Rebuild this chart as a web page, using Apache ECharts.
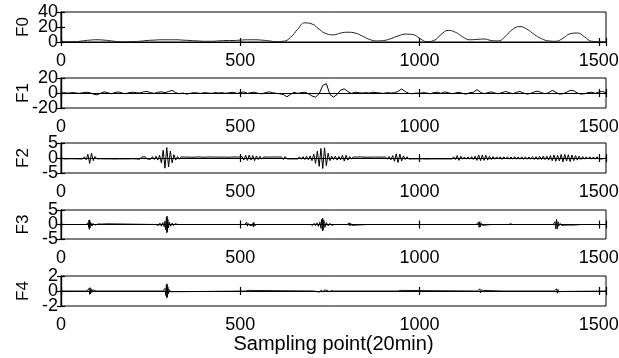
<!DOCTYPE html>
<html>
<head>
<meta charset="utf-8">
<script src="https://cdn.jsdelivr.net/npm/echarts@6/dist/echarts.min.js"></script>
<style>html,body{margin:0;padding:0;background:#fff}#c{width:619px;height:358px}</style>
</head>
<body>
<div id="c"></div>
<script>
// ---- data ----
var xTicks = [0, 500, 1000, 1500];
var names = ['F0', 'F1', 'F2', 'F3', 'F4'];
var yRanges = [[0, 40, 20], [-20, 20, 20], [-5, 5, 5], [-5, 5, 5], [-2, 2, 2]];

// F0 sampled every 20 points
var f0Step = 20;
var f0 = [1,0.5,0.5,1.5,2.5,3,2.5,1.5,0.5,0.3,0.5,1,2,2.5,3,3,3,2.5,2,1.5,1,1,1.5,2,2,2.5,3,3,2.5,1.5,0.5,
  1,6,17,25.5,24,17,11,9.5,12,13,12,8,3.5,1.5,2,4.5,8,10.5,10,5,0.5,2,10,15.5,13,7,3,3.5,4,2,1.5,8,17,20.5,17,10,4.5,1.5,1,5,11,12,7,1,0.5,0.5];

// F1 sampled every 10 points
var f1Step = 10;
var f1 = [0,0.3,-0.2,0.5,0.2,-0.5,0.3,1,0.5,-1.5,-2.5,-0.5,1.5,0.5,-1,0.5,1.5,0,-1,0.5,
  1,0.5,0,1.5,2,0.5,-0.5,1,1.5,0.5,2,3.5,0.5,-1,0,-1.5,-0.5,0.5,0,-0.5,
  0.5,0,-0.5,0.5,0,0.5,-0.5,0.5,1,-0.5,0.5,1.5,-0.5,0.5,1,-0.5,-1,0.5,1.5,0.5,
  -0.5,-1,-2,-5,-2,1,-0.5,0.5,1,-1,-4,-5.5,-1,10,12.5,-2,-5.5,-2,4,5.5,
  2,-0.5,1,0.5,0,0.5,0,1,0.5,0,-0.5,0.5,0,0.5,2,5.5,2,-0.5,-1,0,
  -0.5,0.5,0,-1,0.5,1,-0.5,1.5,0.5,-1,0,1,-0.5,-1.5,0.5,1,4.5,1,-1,0.5,
  1.5,0,-1,0.5,2,0.5,-1,1,2,0,-1.5,-0.5,1.5,2.5,0.5,-1,0.5,3.5,1,-1.5,
  -1,1,3.5,3,0,-1.5,-1,0.5,1,-0.5,1.5,2,0.5];

// F2: segments [startX, values every 5 points]
var f2Step = 5;
var f2Segments = [
  [0, [0,0.3,-0.3,0.25,-0.3,0.3,-0.25,0.3,-0.3,0.25,-0.3,0.3,-0.35,0.4]],
  [70, [-0.6,1.2,-1.8,1.6,-0.9,0.5]],
  [100, [-0.3,0.3,-0.25,0.3,-0.3,0.35,-0.3,0.25,-0.3,0.3,-0.35,0.3,-0.3,0.25,-0.3,0.3,-0.3,0.35,-0.3,0.3,-0.25,0.3,-0.3,0.35,-0.4,0.35,-0.3,0.4,-0.35,0.3,-0.4,0.45,-0.5,0.6,-0.7]],
  [275, [0.9,-1.6,2.6,-3.4,3.5,-3,2.3,-1.6,1.1,-0.7]],
  [325, [0.5,-0.4,0.35,-0.3,0.3,-0.35,0.3,-0.3,0.25,-0.3,0.3,-0.3,0.35,-0.3,0.25,-0.3,0.3,-0.3,0.35,-0.3,0.3,-0.25,0.3,-0.3,0.3,-0.35,0.3,-0.3,0.25,-0.3,0.3,-0.3,0.35,-0.3,0.3,-0.3]],
  [505, [0.5,-0.7,0.9,-0.8,1,-0.7,0.8,-0.9,0.7,-0.5,0.6,-0.4]],
  [565, [0.35,-0.3,0.3,-0.35,0.3,-0.3,0.35,-0.3,0.3,-0.3,0.35,-0.5,0.5,-0.3,0.3,-0.3,0.35,-0.3,0.3,-0.35,0.4,-0.4,0.45,-0.5,0.55,-0.6,0.7]],
  [700, [-0.9,1.3,-1.8,2.3,-2.8,3.2,-3.5,3.4,-2.6,1.6,-0.9,0.6]],
  [760, [-0.5,0.6,-0.7,0.5,-0.6,0.9,-1,0.9,-0.7,0.5,-0.4,0.35,-0.3]],
  [825, [0.3,-0.3,0.35,-0.3,0.3,-0.3,0.25,-0.3,0.3,-0.35,0.3,-0.3,0.3,-0.25,0.3,-0.3,0.35,-0.4,0.5,-0.6,0.8]],
  [930, [-1.1,1.4,-1.5,1.3,-1,0.7,-0.5]],
  [965, [0.4,-0.35,0.3,-0.3,0.35,-0.3,0.3,-0.25,0.3,-0.3,0.3,-0.35,0.3,-0.3,0.25,-0.3,0.3,-0.3,0.35,-0.3,0.3,-0.3,0.35,-0.3,0.3,-0.35,0.4,-0.5]],
  [1105, [0.8,-0.8,0.6,-0.4]],
  [1125, [0.35,-0.4,0.35,-0.4,0.45,-0.5,0.6]],
  [1160, [-0.8,1,-0.9,1,-0.8,0.9,-0.7,0.6,-0.5]],
  [1205, [0.45,-0.4,0.4,-0.35,0.4,-0.45,0.4,-0.35,0.4,-0.4,0.35,-0.4,0.45,-0.4,0.35,-0.4,0.4,-0.45,0.4,-0.4,0.35,-0.4,0.45,-0.5,0.45,-0.5,0.55,-0.5,0.6,-0.55,0.6,-0.7,0.8]],
  [1370, [-0.9,1,-1.1,0.9,-1,1.2,-1.3,1.2,-1,1.1,-1.2,1,-0.9,0.8,-0.7,0.6,-0.5]],
  [1455, [0.45,-0.4,0.4,-0.35,0.4,-0.4,0.35,-0.4,0.4,-0.35,0.3,-0.3,0.2,0]]
];

// F3 points [x, y]
var f3 = [[0,0],[70,0],[72,0.3],[74,-0.4],[76,0.6],[77,-1],[78,1.5],[79,-1.7],[80,1.6],[81,-1.2],[82,0.8],[84,-0.5],[86,0.4],[88,-0.4],[90,0.3],[92,-0.3],[94,0.3],[96,-0.2],[98,0.2],[100,0],
  [104,0.2],[106,-0.2],[108,0],[114,0.15],[116,-0.15],[118,0],[128,0.25],[130,-0.25],[132,0],
  [265,0],[268,0.3],[272,-0.4],[276,0.5],[280,-0.6],[284,0.7],[288,-0.8],[290,1.2],[292,-1.8],[294,2.5],[295,-2.9],[296,2.9],[297,-2.5],[298,1.8],[300,-1.2],[302,0.8],[306,-0.6],[310,0.5],[314,-0.4],[318,0.3],[322,-0.2],[326,0],
  [512,0],[514,0.3],[516,-0.5],[518,0.8],[520,-0.6],[522,0.4],[526,-0.3],[530,0.3],[534,-0.4],[536,0.6],[537,-0.8],[538,0.7],[540,-0.4],[543,0.2],[546,0],
  [638,0],[640,0.2],[642,-0.2],[644,0],
  [695,0],[698,0.2],[702,-0.3],[706,0.4],[710,-0.4],[714,0.6],[718,-0.7],[722,0.9],[725,-1.3],[727,1.8],[729,-2.2],[730,2.2],[731,-2],[733,1.5],[736,-1],[740,0.7],[745,-0.5],[750,0.4],[755,-0.3],[760,0.2],[763,0],
  [798,0],[800,0.4],[802,-0.5],[804,0.6],[806,-0.5],[808,0.4],[811,-0.3],[814,0.2],[816,0],
  [854,0],[856,0.15],[858,-0.15],[860,0],
  [940,0],[942,0.2],[944,-0.2],[946,0],[955,0],[957,0.25],[959,-0.25],[961,0],[970,0],[972,0.2],[974,-0.2],[976,0],
  [1072,0],[1074,0.15],[1076,-0.15],[1078,0],[1095,0],[1097,0.2],[1099,-0.2],[1101,0],[1118,0],[1120,0.25],[1122,-0.25],[1124,0],
  [1158,0],[1160,0.3],[1162,-0.5],[1164,0.8],[1166,-1],[1168,1],[1170,-0.8],[1172,0.5],[1175,-0.3],[1178,0.2],[1180,0],
  [1200,0],[1202,0.2],[1204,-0.2],[1206,0],[1225,0],[1227,0.2],[1229,-0.2],[1231,0],[1248,0],[1250,0.3],[1252,-0.3],[1254,0.25],[1256,-0.25],[1258,0.2],[1260,0],[1268,0],[1270,0.2],[1272,-0.2],[1274,0],
  [1372,0],[1374,0.3],[1376,-0.6],[1378,1],[1380,-1.5],[1382,1.8],[1384,-1.6],[1386,1],[1388,-0.6],[1392,0.4],[1396,-0.3],[1400,0.3],[1405,-0.25],[1410,0.2],[1415,-0.2],[1420,0.25],[1425,-0.2],[1430,0.2],[1435,-0.15],[1440,0.15],[1450,0],
  [1506,0],[1508,0.3],[1510,-0.3],[1512,0],[1520,0]];

// F4 points [x, y]
var f4 = [[0,0],[72,0],[74,0.15],[76,-0.25],[78,0.35],[80,-0.45],[81,0.45],[82,-0.4],[84,0.3],[86,-0.2],[88,0.15],[90,-0.1],[92,0],[100,0],[102,0.08],[104,-0.08],[106,0],[112,0],[114,0.08],[116,-0.08],[118,0],
  [284,0],[286,0.1],[288,-0.2],[290,0.35],[292,-0.6],[294,0.85],[295,-0.95],[296,0.95],[297,-0.8],[298,0.55],[300,-0.35],[302,0.2],[305,-0.1],[308,0],
  [516,0],[518,0.08],[520,-0.1],[522,0.08],[524,0],
  [706,0],[710,0.08],[714,-0.1],[718,0.1],[722,-0.12],[726,0.15],[730,-0.15],[734,0.12],[738,-0.1],[742,0.1],[748,-0.08],[754,0.06],[760,0],
  [940,0],[942,0.08],[944,-0.1],[946,0.08],[948,0],
  [1162,0],[1164,0.15],[1166,-0.25],[1168,0.3],[1170,-0.25],[1172,0.15],[1174,-0.1],[1178,0.08],[1182,0],
  [1232,0],[1234,0.06],[1236,-0.06],[1238,0],
  [1376,0],[1378,0.15],[1380,-0.25],[1382,0.3],[1384,-0.3],[1386,0.2],[1388,-0.12],[1392,0.08],[1396,-0.06],[1400,0],[1520,0]];

var xTitle = 'Sampling point(20min)';

// ---- build ----
function stepPairs(arr, step) { return arr.map(function (v, i) { return [i * step, v]; }); }
function segPairs(segs, step) {
  var out = [];
  segs.forEach(function (s) { s[1].forEach(function (v, i) { out.push([s[0] + i * step, v]); }); });
  return out;
}
var seriesData = [stepPairs(f0, f0Step), stepPairs(f1, f1Step), segPairs(f2Segments, f2Step), f3, f4];

var FONT = "'Liberation Sans', Arial, sans-serif";
var tops = [12, 78, 143, 210, 276];
var heights = [30, 30, 30, 29, 30];
var plain = function (v) { return String(v); };
var grid = [], xAxis = [], yAxis = [], series = [];
var lineStyleAxis = { color: '#000', width: 1.2 };
for (var i = 0; i < 5; i++) {
  grid.push({ left: 61, right: 13, top: tops[i], height: heights[i], show: true, borderColor: '#000', borderWidth: 1,
    backgroundColor: 'transparent', containLabel: false, outerBoundsMode: 'none' });
  var tickStyle = { show: true, inside: true, length: 4, lineStyle: lineStyleAxis };
  var xb = {
    type: 'value', gridIndex: i, min: xTicks[0], max: 1520, interval: xTicks[1] - xTicks[0], position: 'bottom',
    axisLine: { show: true, lineStyle: lineStyleAxis }, axisTick: tickStyle, splitLine: { show: false },
    axisLabel: { show: true, color: '#000', fontSize: 18, fontFamily: FONT, margin: 10, hideOverlap: false,
      customValues: xTicks, formatter: plain }
  };
  if (i === 4) {
    xb.name = xTitle; xb.nameLocation = 'middle'; xb.nameGap = 28; xb.nameMoveOverlap = false;
    xb.nameTextStyle = { color: '#000', fontSize: 20, fontFamily: FONT };
  }
  xAxis.push(xb);
  xAxis.push({
    type: 'value', gridIndex: i, min: xTicks[0], max: 1520, interval: xTicks[1] - xTicks[0], position: 'top',
    axisLine: { show: true, lineStyle: lineStyleAxis }, axisTick: tickStyle, splitLine: { show: false }, axisLabel: { show: false }
  });
  var r = yRanges[i];
  // y axis A: ticks + min/max labels + name
  yAxis.push({
    type: 'value', gridIndex: i, min: r[0], max: r[1], interval: r[2], position: 'left',
    axisLine: { show: true, lineStyle: lineStyleAxis }, axisTick: tickStyle, splitLine: { show: false },
    axisLabel: { color: '#000', fontSize: 18, fontFamily: FONT, margin: 3, hideOverlap: false, customValues: [r[0], r[1]], formatter: plain },
    name: names[i], nameLocation: 'middle', nameGap: 29, nameMoveOverlap: false,
    nameTextStyle: { color: '#000', fontSize: 17, fontFamily: FONT }
  });
  // right side ticks
  yAxis.push({
    type: 'value', gridIndex: i, min: r[0], max: r[1], interval: r[2], position: 'right',
    axisLine: { show: true, lineStyle: lineStyleAxis }, axisTick: tickStyle, splitLine: { show: false }, axisLabel: { show: false }
  });
  // y axis B: middle label only
  yAxis.push({
    type: 'value', gridIndex: i, min: r[0], max: r[1], interval: r[2], position: 'left', offset: 0,
    axisLine: { show: false }, axisTick: { show: false }, splitLine: { show: false },
    axisLabel: { color: '#000', fontSize: 18, fontFamily: FONT, margin: 3, hideOverlap: false, customValues: [r[0] + r[2]], formatter: plain }
  });
  series.push({
    type: 'line', xAxisIndex: 2 * i, yAxisIndex: 3 * i, data: seriesData[i], symbol: 'none', showSymbol: false,
    smooth: i === 0, lineStyle: { color: i === 0 ? '#222' : '#000', width: i >= 3 ? 0.9 : 1 }, clip: true
  });
}
var chart = echarts.init(document.getElementById('c'), null, { renderer: 'canvas' });
chart.setOption({ animation: false, backgroundColor: '#fff', grid: grid, xAxis: xAxis, yAxis: yAxis, series: series });
</script>
</body>
</html>
